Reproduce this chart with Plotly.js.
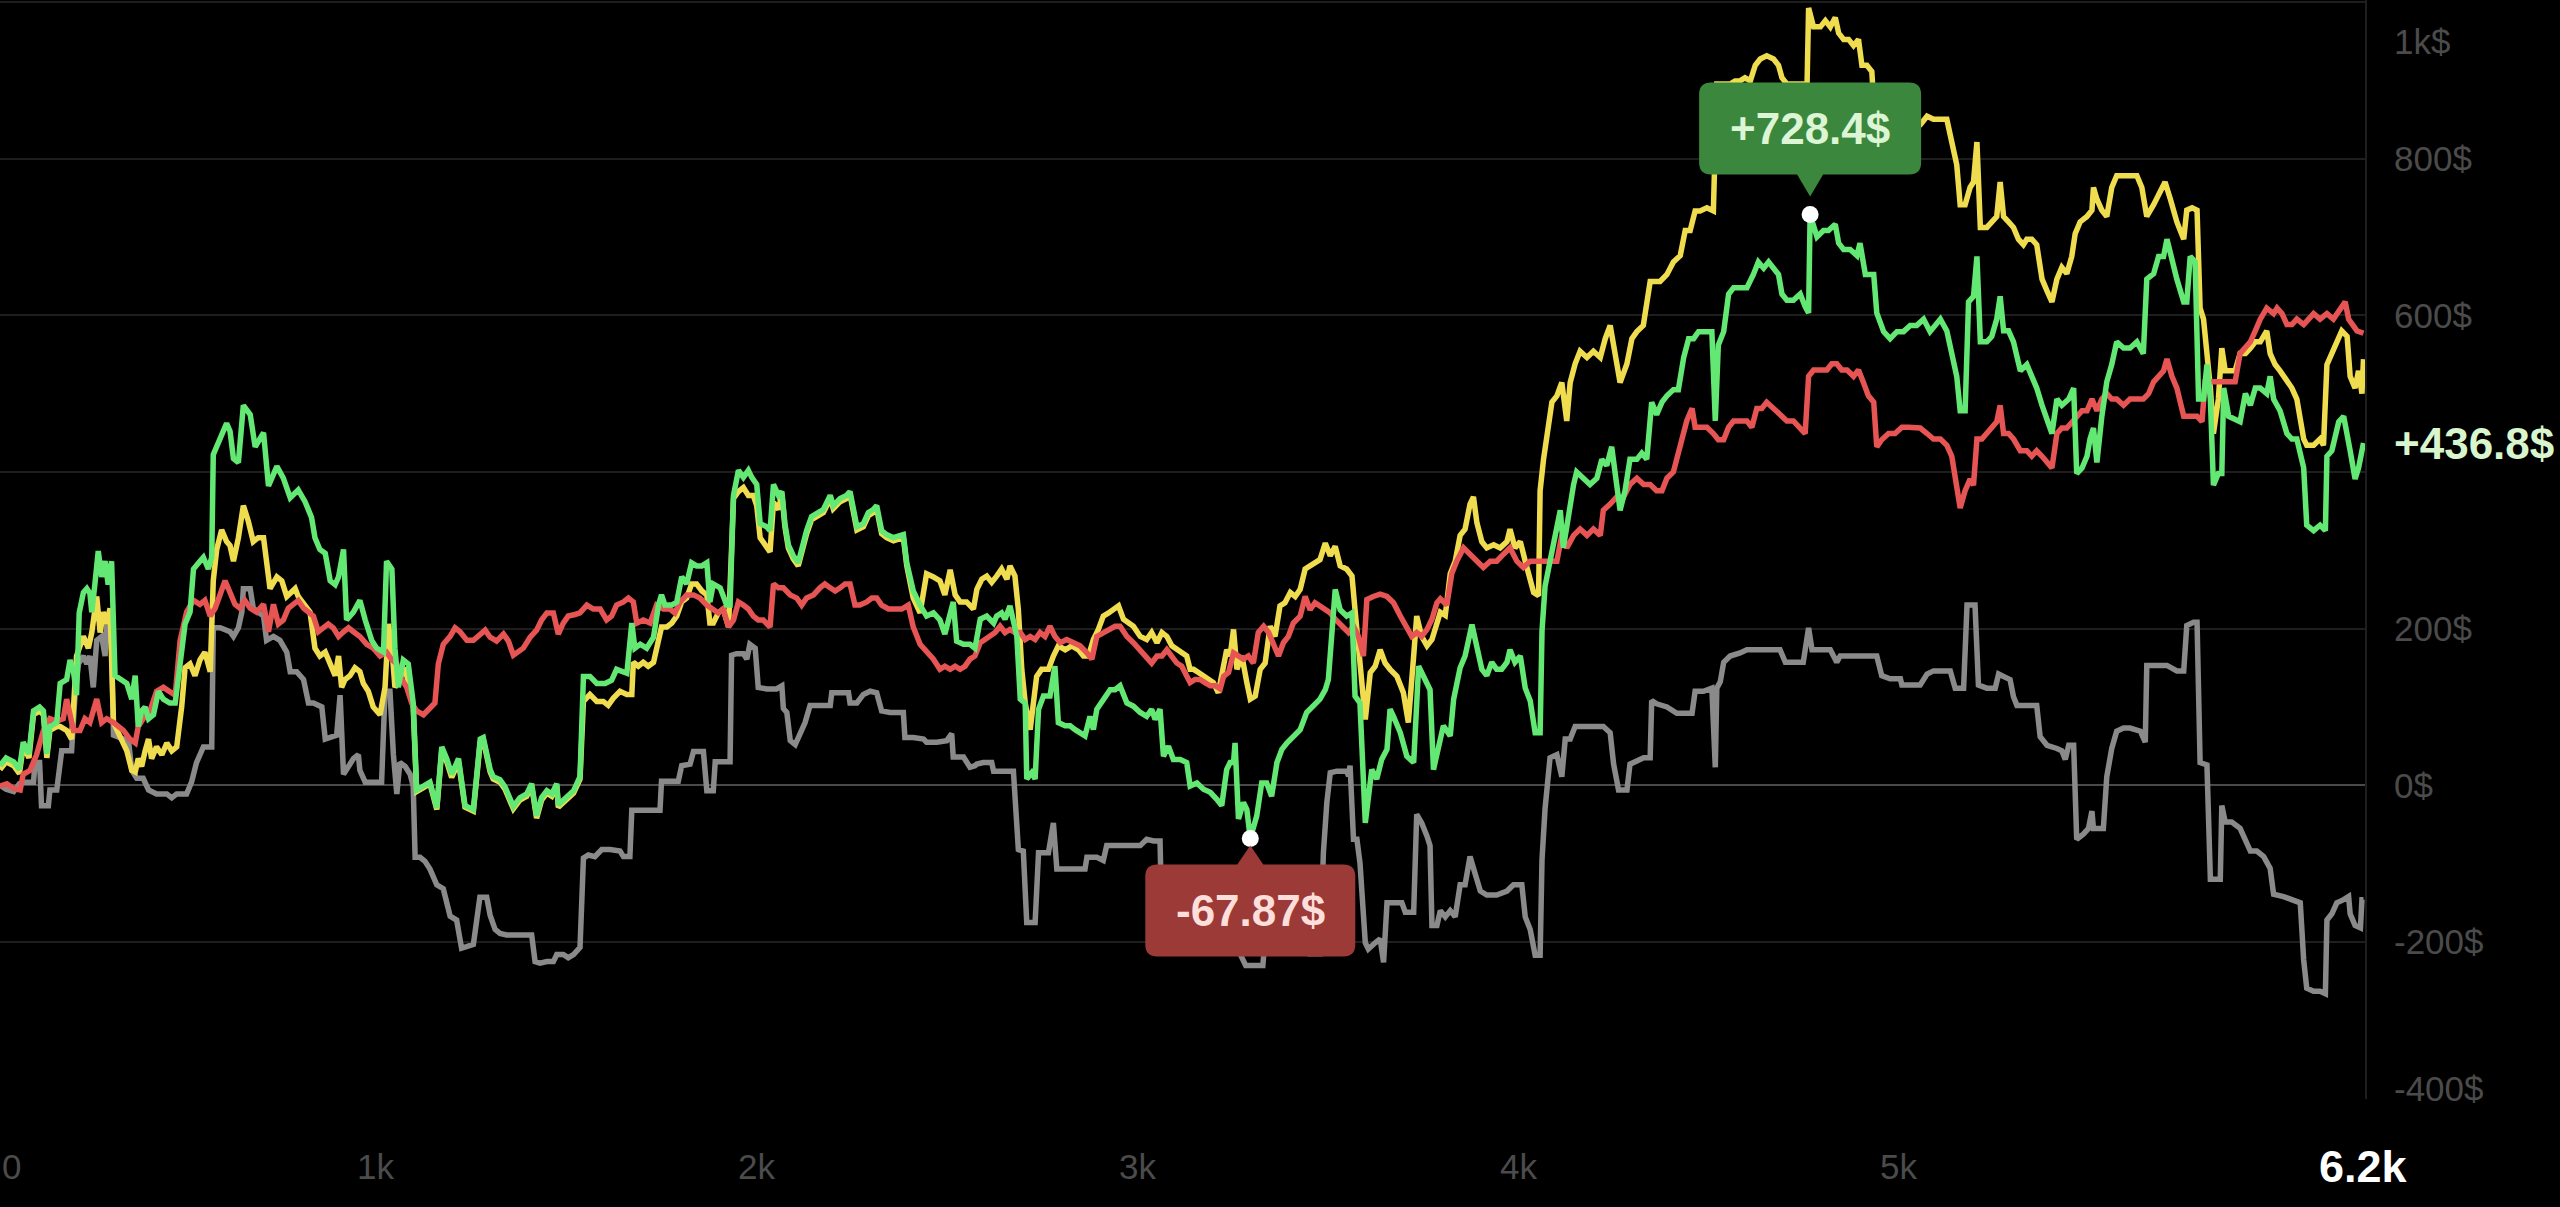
<!DOCTYPE html>
<html><head><meta charset="utf-8">
<script src="https://cdn.plot.ly/plotly-3.0.1.min.js"></script>
<style>html,body{margin:0;padding:0;background:#000;overflow:hidden}#chart{width:2560px;height:1207px}</style>
</head><body><div id="chart"></div>
<script>
// ---------- data (x = trade count, y = P&L $) ----------
const yellowPts = [[14,20],[30,30],[50,25],[65,15],[75,50],[90,35],[102,90],[118,95],[128,90],[137,35],[145,70],[163,75],[172,75],[189,70],[202,59],[215,165],[233,190],[246,175],[255,195],[268,241],[277,195],[285,221],[294,206],[303,226],[312,80],[329,64],[347,44],[360,19],[369,17],[377,34],[386,24],[395,44],[404,59],[412,34],[425,49],[439,39],[452,54],[465,44],[478,49],[491,100],[500,150],[513,155],[526,140],[539,160],[552,170],[566,145],[574,261],[583,301],[596,326],[609,311],[618,306],[627,286],[640,316],[653,357],[666,337],[679,311],[692,316],[706,316],[714,286],[723,251],[741,266],[754,261],[767,241],[780,246],[789,251],[797,241],[811,231],[828,221],[841,175],[854,165],[868,170],[881,155],[894,140],[903,165],[911,125],[920,135],[933,140],[946,150],[959,145],[968,130],[981,120],[994,100],[1012,90],[1025,125],[1034,206],[1043,175],[1051,125],[1064,135],[1078,150],[1099,100],[1108,-8],[1126,-3],[1143,2],[1161,-31],[1174,45],[1187,30],[1200,10],[1218,30],[1235,-28],[1257,-33],[1275,55],[1283,58],[1292,36],[1301,17],[1309,8],[1327,4],[1340,-5],[1353,-19],[1362,-30],[1379,-19],[1397,-14],[1410,-1],[1423,-42],[1436,-19],[1450,-10],[1463,-14],[1476,-1],[1480,-28],[1502,-19],[1520,-10],[1537,8],[1546,107],[1563,116],[1581,107],[1598,107],[1611,102],[1624,111],[1642,120],[1660,116],[1673,116],[1677,157],[1690,152],[1703,157],[1716,152],[1730,157],[1738,175],[1751,202],[1765,202],[1778,207],[1791,216],[1804,234],[1817,239],[1830,257],[1843,257],[1857,248],[1870,243],[1878,207],[1887,207],[1900,220],[1913,225],[1927,202],[1940,366],[1953,375],[1966,380],[1979,370],[1992,370],[2001,357],[2010,316],[2023,307],[2036,298],[2045,361],[2058,352],[2067,372],[2075,330],[2084,303],[2097,289],[2110,280],[2119,298],[2132,321],[2145,339],[2159,344],[2176,348],[2194,366],[2202,353],[2220,362],[2237,366],[2246,371],[2264,326],[2281,330],[2294,344],[2307,348],[2316,353],[2329,321],[2342,316],[2360,312],[2386,316],[2395,280],[2412,239],[2430,220],[2447,270],[2465,266],[2482,261],[2495,243],[2509,275],[2522,243],[2535,234],[2552,234],[2570,225],[2579,250],[2592,263],[2605,267],[2618,259],[2631,267],[2644,276],[2658,263],[2666,280],[2679,267],[2688,224],[2697,148],[2706,105],[2719,71],[2728,105],[2736,139],[2749,148],[2767,148],[2780,165],[2793,178],[2811,173],[2828,178],[2846,173],[2859,165],[2872,165],[2885,186],[2898,199],[2911,216],[2925,220],[2938,224],[2951,229],[2964,212],[2977,207],[2990,203],[3008,190],[3025,186],[3038,195],[3052,182],[3065,195],[3078,190],[3091,178],[3104,173],[3117,169],[3130,165],[3139,148],[3148,148],[3161,144],[3174,139],[3187,135],[3200,131],[3213,118],[3227,148],[3235,173],[3244,165],[3253,199],[3262,148],[3275,165],[3288,131],[3297,110],[3310,114],[3323,148],[3336,156],[3349,203],[3362,190],[3375,229],[3388,233],[3402,246],[3415,241],[3428,250],[3441,276],[3454,280],[3467,284],[3480,288],[3494,309],[3507,293],[3520,305],[3533,280],[3550,276],[3564,267],[3572,224],[3585,148],[3599,84],[3612,144],[3625,152],[3638,173],[3651,156],[3664,148],[3682,139],[3699,118],[3712,80],[3726,165],[3734,216],[3747,190],[3761,178],[3774,186],[3787,207],[3796,221],[3809,217],[3822,270],[3835,286],[3848,319],[3861,327],[3874,359],[3883,368],[3892,335],[3905,311],[3918,303],[3936,307],[3953,303],[3971,311],[3979,327],[3992,303],[4006,311],[4019,286],[4032,262],[4041,246],[4054,242],[4058,376],[4067,416],[4080,465],[4089,489],[4102,497],[4115,514],[4128,465],[4137,514],[4150,538],[4163,554],[4181,546],[4198,554],[4216,546],[4229,570],[4242,587],[4255,554],[4268,514],[4286,538],[4299,570],[4312,579],[4329,587],[4347,643],[4360,643],[4373,643],[4391,652],[4408,668],[4426,676],[4439,708],[4452,708],[4465,733],[4478,733],[4496,737],[4513,733],[4522,895],[4540,895],[4557,895],[4570,899],[4583,899],[4596,903],[4610,899],[4623,919],[4636,927],[4653,931],[4671,927],[4684,919],[4693,903],[4706,895],[4723,895],[4741,895],[4759,895],[4763,992],[4776,968],[4794,968],[4807,976],[4820,968],[4833,980],[4842,960],[4855,952],[4868,952],[4881,944],[4894,952],[4903,919],[4916,919],[4929,911],[4938,838],[4951,838],[4969,830],[4986,838],[5004,846],[5021,838],[5039,838],[5056,843],[5074,854],[5091,850],[5109,850],[5126,850],[5139,821],[5152,792],[5161,741],[5174,741],[5187,763],[5196,770],[5205,821],[5214,712],[5231,712],[5244,719],[5257,726],[5266,770],[5275,726],[5288,719],[5301,712],[5314,697],[5327,690],[5336,697],[5349,697],[5362,690],[5376,646],[5389,631],[5402,617],[5415,646],[5428,661],[5441,653],[5454,675],[5463,704],[5476,719],[5494,726],[5507,734],[5511,763],[5520,748],[5533,734],[5546,726],[5559,763],[5572,778],[5590,778],[5607,778],[5625,778],[5638,763],[5651,726],[5669,741],[5686,756],[5699,770],[5713,748],[5730,719],[5748,697],[5756,734],[5770,737],[5783,734],[5791,609],[5800,595],[5809,551],[5818,507],[5826,449],[5839,493],[5848,558],[5857,529],[5870,529],[5883,529],[5896,551],[5910,551],[5923,558],[5936,566],[5949,566],[5966,580],[5975,551],[5988,537],[6001,529],[6019,515],[6032,507],[6045,493],[6063,442],[6071,434],[6089,434],[6106,442],[6115,434],[6124,537],[6137,551],[6150,566],[6163,580],[6177,573],[6185,522],[6198,507],[6207,529],[6216,500],[6220,544]];

const greenPts = [[14,25],[30,35],[50,30],[65,20],[75,55],[90,40],[102,95],[118,100],[128,95],[137,40],[145,75],[163,80],[172,130],[189,135],[198,160],[207,145],[215,115],[222,220],[233,246],[242,251],[250,245],[255,221],[263,256],[272,299],[281,266],[290,286],[298,256],[307,286],[316,140],[329,135],[347,130],[360,110],[369,140],[377,75],[386,95],[395,100],[404,85],[417,90],[430,120],[443,110],[460,105],[474,105],[487,160],[500,206],[513,221],[522,276],[539,286],[548,291],[561,276],[570,291],[574,422],[592,442],[609,462],[618,452],[627,417],[640,412],[653,485],[671,473],[684,432],[706,450],[719,382],[741,407],[758,392],[776,367],[797,377],[815,362],[832,342],[841,316],[854,301],[868,296],[881,261],[894,256],[903,266],[916,301],[924,211],[942,221],[959,236],[973,211],[990,185],[1003,175],[1021,170],[1029,286],[1043,276],[1051,175],[1060,125],[1073,160],[1086,155],[1099,105],[1108,-6],[1126,-1],[1143,4],[1161,-29],[1174,49],[1187,34],[1200,14],[1218,34],[1235,-26],[1257,-31],[1275,59],[1283,61],[1292,39],[1301,20],[1309,11],[1327,7],[1340,-2],[1353,-16],[1362,-27],[1379,-16],[1397,-11],[1410,2],[1423,-39],[1436,-16],[1450,-7],[1463,-11],[1476,2],[1480,-25],[1502,-16],[1520,-7],[1537,11],[1546,139],[1563,139],[1581,130],[1603,130],[1620,134],[1633,148],[1660,143],[1673,207],[1681,175],[1695,180],[1712,175],[1730,189],[1743,230],[1751,243],[1760,230],[1778,230],[1791,234],[1804,266],[1817,257],[1830,284],[1843,280],[1857,280],[1870,284],[1878,234],[1887,257],[1905,252],[1922,230],[1931,230],[1940,370],[1953,402],[1966,393],[1979,402],[1988,393],[2001,384],[2010,334],[2027,330],[2036,325],[2045,384],[2058,370],[2067,375],[2075,334],[2084,307],[2097,293],[2110,284],[2119,302],[2132,325],[2145,343],[2159,348],[2176,352],[2194,370],[2202,357],[2220,366],[2237,370],[2246,375],[2264,330],[2281,334],[2294,348],[2307,352],[2316,357],[2329,325],[2342,320],[2360,316],[2386,320],[2395,284],[2412,248],[2430,230],[2447,216],[2465,220],[2482,211],[2495,193],[2509,216],[2517,234],[2526,184],[2544,180],[2561,180],[2574,175],[2588,212],[2605,216],[2623,207],[2631,216],[2644,220],[2653,212],[2666,229],[2675,207],[2684,190],[2693,110],[2706,105],[2710,8],[2723,16],[2732,8],[2741,97],[2754,114],[2771,114],[2784,152],[2793,80],[2811,76],[2824,76],[2837,71],[2850,67],[2863,63],[2876,88],[2885,71],[2894,97],[2911,110],[2929,122],[2942,122],[2955,127],[2973,105],[2990,101],[3008,93],[3025,88],[3038,97],[3047,84],[3060,97],[3069,37],[3082,50],[3095,33],[3113,33],[3130,29],[3139,-1],[3157,3],[3174,-5],[3192,-9],[3209,-18],[3222,-26],[3235,20],[3244,29],[3253,29],[3257,54],[3266,-43],[3279,-22],[3288,-31],[3297,-67.87],[3314,-39],[3327,3],[3340,3],[3353,-14],[3367,29],[3380,46],[3393,54],[3410,63],[3428,71],[3445,93],[3463,101],[3480,110],[3494,122],[3502,135],[3520,250],[3533,224],[3550,216],[3564,220],[3572,114],[3585,105],[3599,-48],[3616,20],[3629,8],[3642,33],[3656,46],[3664,97],[3673,88],[3691,67],[3708,37],[3726,29],[3739,152],[3756,135],[3769,122],[3778,20],[3791,46],[3804,76],[3822,63],[3831,110],[3848,150],[3861,165],[3879,205],[3892,173],[3905,148],[3918,140],[3931,157],[3944,148],[3957,148],[3971,157],[3979,173],[3992,157],[4006,165],[4019,124],[4032,108],[4045,67],[4058,67],[4063,197],[4071,254],[4084,286],[4098,319],[4111,351],[4119,303],[4133,351],[4146,384],[4154,400],[4172,392],[4189,384],[4207,392],[4220,416],[4233,408],[4246,432],[4259,384],[4268,351],[4281,376],[4294,416],[4312,416],[4325,424],[4338,416],[4351,489],[4364,473],[4378,489],[4391,497],[4408,505],[4421,505],[4435,546],[4448,570],[4461,570],[4474,579],[4496,579],[4509,579],[4518,465],[4526,562],[4540,579],[4553,627],[4566,635],[4583,635],[4601,635],[4618,652],[4631,668],[4645,660],[4658,668],[4671,660],[4684,652],[4693,627],[4706,619],[4723,619],[4741,627],[4754,611],[4763,603],[4767,728.4],[4785,700],[4802,708],[4815,708],[4833,716],[4842,692],[4855,684],[4872,684],[4890,676],[4898,692],[4912,652],[4925,652],[4934,652],[4942,603],[4960,579],[4977,570],[4995,579],[5012,579],[5030,587],[5047,587],[5065,595],[5082,579],[5109,595],[5126,580],[5139,551],[5152,522],[5161,478],[5174,478],[5183,617],[5196,624],[5205,675],[5214,566],[5231,566],[5244,573],[5257,595],[5266,624],[5275,580],[5288,580],[5301,566],[5319,529],[5336,537],[5349,522],[5362,507],[5376,485],[5389,464],[5402,449],[5415,493],[5428,485],[5446,493],[5459,507],[5467,398],[5481,405],[5494,420],[5502,442],[5511,456],[5520,412],[5533,471],[5546,515],[5559,537],[5572,566],[5590,558],[5607,558],[5625,566],[5642,551],[5651,646],[5669,653],[5682,675],[5695,675],[5704,697],[5717,668],[5730,646],[5748,617],[5756,617],[5765,675],[5778,668],[5787,493],[5800,493],[5809,537],[5818,493],[5826,383],[5839,398],[5848,398],[5853,507],[5866,471],[5883,467],[5896,464],[5910,500],[5923,485],[5936,507],[5949,507],[5966,500],[5975,522],[5984,493],[6001,478],[6019,449],[6032,442],[6045,442],[6063,405],[6071,332],[6089,325],[6106,332],[6120,325],[6124,420],[6137,427],[6155,464],[6168,471],[6185,427],[6198,391],[6207,405],[6220,436.8]];

const redPts = [[14,-1],[32,2],[49,-4],[67,-6],[75,14],[93,19],[110,39],[128,70],[145,85],[163,82],[180,85],[189,110],[198,90],[207,70],[224,70],[237,85],[250,80],[268,110],[281,80],[294,85],[312,80],[325,75],[338,70],[355,59],[369,54],[377,75],[390,85],[408,95],[425,120],[443,125],[460,120],[474,115],[487,185],[504,221],[522,236],[539,231],[552,236],[566,216],[579,226],[592,246],[605,261],[618,246],[631,231],[644,226],[657,236],[671,226],[688,221],[706,231],[719,196],[732,231],[745,206],[758,211],[771,226],[784,231],[797,236],[811,226],[824,221],[837,216],[850,196],[863,201],[876,206],[889,201],[903,190],[916,196],[929,201],[942,196],[959,190],[977,180],[994,175],[1012,165],[1029,170],[1043,160],[1056,155],[1069,135],[1082,125],[1095,105],[1108,95],[1126,90],[1143,100],[1156,105],[1165,155],[1178,180],[1196,190],[1209,201],[1222,196],[1240,185],[1257,185],[1274,193],[1288,198],[1301,189],[1318,184],[1336,193],[1349,184],[1362,166],[1375,171],[1388,175],[1406,189],[1423,198],[1436,211],[1450,220],[1467,220],[1480,193],[1493,207],[1506,216],[1524,218],[1537,220],[1555,230],[1572,225],[1590,225],[1607,211],[1620,216],[1633,230],[1651,234],[1664,239],[1677,234],[1686,207],[1703,211],[1721,207],[1738,230],[1756,225],[1773,225],[1786,220],[1800,234],[1817,243],[1835,243],[1852,239],[1870,230],[1887,225],[1900,220],[1913,225],[1927,202],[1940,211],[1953,234],[1966,230],[1979,225],[1992,216],[2005,211],[2018,211],[2036,202],[2045,257],[2058,252],[2071,252],[2089,243],[2106,239],[2119,230],[2132,239],[2150,243],[2167,252],[2180,257],[2194,252],[2207,248],[2220,252],[2233,257],[2246,257],[2259,230],[2272,230],[2290,234],[2303,239],[2316,239],[2329,230],[2347,225],[2364,225],[2382,225],[2399,230],[2412,202],[2430,180],[2447,170],[2465,161],[2482,148],[2495,152],[2509,148],[2522,152],[2535,148],[2548,152],[2561,161],[2574,165],[2588,182],[2601,186],[2614,190],[2627,195],[2640,203],[2653,195],[2666,199],[2679,195],[2693,195],[2706,186],[2719,190],[2732,186],[2745,195],[2758,190],[2771,203],[2784,190],[2798,182],[2815,186],[2833,182],[2850,178],[2868,169],[2881,161],[2894,190],[2911,195],[2929,199],[2942,203],[2955,203],[2973,190],[2990,182],[3008,173],[3025,165],[3038,156],[3052,165],[3065,165],[3078,173],[3091,165],[3104,156],[3117,152],[3130,139],[3139,131],[3152,135],[3165,135],[3178,131],[3192,127],[3205,127],[3218,123],[3227,139],[3240,144],[3253,169],[3266,165],[3279,161],[3292,165],[3305,156],[3318,195],[3332,203],[3345,195],[3358,182],[3371,165],[3384,182],[3397,190],[3410,207],[3428,216],[3441,241],[3454,224],[3467,233],[3480,229],[3494,224],[3507,220],[3520,212],[3537,203],[3555,195],[3568,203],[3581,190],[3594,165],[3603,237],[3620,241],[3638,244],[3656,241],[3673,233],[3691,216],[3708,199],[3721,190],[3734,195],[3747,190],[3761,199],[3774,212],[3787,233],[3796,238],[3813,230],[3826,270],[3839,286],[3857,303],[3874,295],[3892,286],[3909,278],[3927,286],[3944,286],[3962,295],[3979,303],[3997,286],[4014,278],[4032,286],[4049,286],[4067,286],[4084,286],[4102,286],[4115,319],[4128,303],[4146,319],[4163,327],[4181,319],[4198,327],[4216,319],[4224,351],[4242,359],[4259,368],[4277,368],[4294,384],[4312,392],[4330,384],[4347,384],[4364,376],[4378,376],[4391,392],[4408,400],[4426,432],[4443,465],[4457,481],[4465,457],[4478,457],[4496,457],[4513,449],[4526,441],[4540,441],[4553,457],[4566,465],[4583,465],[4601,465],[4614,457],[4627,481],[4640,481],[4653,489],[4671,481],[4688,473],[4706,465],[4723,465],[4741,457],[4754,449],[4763,522],[4776,530],[4794,530],[4811,530],[4824,538],[4837,538],[4850,530],[4864,530],[4881,522],[4894,530],[4907,514],[4920,497],[4934,489],[4942,432],[4955,441],[4973,449],[4990,449],[5008,457],[5025,457],[5043,457],[5056,456],[5074,449],[5091,442],[5109,442],[5126,434],[5139,420],[5152,376],[5161,354],[5174,376],[5187,391],[5196,383],[5205,442],[5218,442],[5231,449],[5244,456],[5257,464],[5266,485],[5275,449],[5288,449],[5301,442],[5319,427],[5336,427],[5349,420],[5362,427],[5376,420],[5389,412],[5402,405],[5415,449],[5428,456],[5441,456],[5454,464],[5467,471],[5481,478],[5494,478],[5507,493],[5520,478],[5533,493],[5546,500],[5559,493],[5572,493],[5590,485],[5607,493],[5625,493],[5642,493],[5656,500],[5669,515],[5682,522],[5695,529],[5704,544],[5717,522],[5730,507],[5748,471],[5765,471],[5783,471],[5796,464],[5804,515],[5818,515],[5835,515],[5853,515],[5870,515],[5883,515],[5896,551],[5910,558],[5923,566],[5936,580],[5949,595],[5966,609],[5984,602],[5993,609],[6006,602],[6019,588],[6032,588],[6045,595],[6063,588],[6076,595],[6089,602],[6106,595],[6124,602],[6141,595],[6159,609],[6172,617],[6181,595],[6190,588],[6203,580],[6220,577]];

const greyPts = [[14,0],[30,-5],[50,-8],[65,2],[80,4],[102,4],[106,29],[118,29],[123,-26],[141,-26],[145,-6],[163,-6],[176,44],[202,44],[211,115],[220,155],[233,165],[242,155],[250,165],[259,125],[268,185],[281,190],[290,165],[294,201],[306,201],[312,64],[338,59],[351,59],[360,19],[373,9],[390,9],[404,-6],[425,-11],[452,-11],[465,-16],[478,-11],[504,-11],[517,4],[530,29],[548,49],[570,49],[574,201],[592,201],[618,196],[627,190],[640,201],[649,221],[653,251],[671,251],[679,226],[692,221],[706,216],[714,185],[732,190],[749,185],[767,170],[776,145],[793,145],[811,135],[824,105],[837,105],[859,100],[868,59],[898,64],[907,115],[916,14],[929,24],[942,34],[955,39],[959,19],[973,4],[1016,4],[1025,120],[1038,120],[1047,39],[1056,-11],[1064,29],[1078,24],[1091,14],[1099,-1],[1104,-92],[1117,-92],[1130,-97],[1143,-107],[1161,-127],[1178,-132],[1196,-167],[1213,-172],[1226,-208],[1257,-203],[1274,-143],[1292,-143],[1301,-166],[1314,-184],[1327,-189],[1344,-191],[1362,-191],[1388,-191],[1410,-191],[1419,-225],[1432,-227],[1450,-225],[1467,-225],[1476,-216],[1493,-216],[1506,-220],[1520,-216],[1537,-207],[1546,-93],[1559,-89],[1576,-91],[1594,-82],[1616,-82],[1642,-84],[1651,-91],[1668,-91],[1673,-32],[1695,-32],[1721,-32],[1747,-32],[1751,5],[1773,5],[1795,5],[1804,25],[1826,27],[1835,43],[1861,43],[1870,-7],[1887,-7],[1892,30],[1913,30],[1931,30],[1935,166],[1948,168],[1966,168],[1975,161],[1983,180],[1997,175],[2005,125],[2027,123],[2053,123],[2067,127],[2071,98],[2080,93],[2089,57],[2102,52],[2115,66],[2128,80],[2141,102],[2167,102],[2194,102],[2198,118],[2220,118],[2242,118],[2246,105],[2264,105],[2281,116],[2299,120],[2316,118],[2329,95],[2351,93],[2386,93],[2390,61],[2412,61],[2439,59],[2447,55],[2474,55],[2500,57],[2513,66],[2517,36],[2544,36],[2561,23],[2574,25],[2579,27],[2596,29],[2618,29],[2623,18],[2649,18],[2675,18],[2688,-82],[2701,-84],[2710,-175],[2732,-175],[2741,-86],[2767,-86],[2780,-48],[2789,-107],[2815,-107],[2841,-107],[2863,-107],[2868,-92],[2894,-92],[2911,-96],[2920,-77],[2946,-77],[2973,-77],[3008,-77],[3025,-69],[3043,-71],[3060,-71],[3065,-175],[3100,-175],[3150,-180],[3200,-200],[3260,-205],[3285,-230],[3330,-230],[3335,-200],[3400,-200],[3450,-215],[3480,-215],[3489,-86],[3498,-22],[3507,16],[3524,18],[3550,18],[3555,12],[3559,25],[3568,-69],[3577,-69],[3585,-99],[3599,-201],[3607,-209],[3625,-201],[3638,-196],[3647,-226],[3656,-150],[3673,-150],[3695,-150],[3704,-162],[3726,-162],[3734,-37],[3747,-48],[3761,-65],[3769,-77],[3774,-179],[3787,-179],[3796,-160],[3809,-168],[3822,-160],[3835,-168],[3848,-127],[3861,-127],[3874,-91],[3887,-111],[3901,-135],[3918,-140],[3944,-140],[3971,-135],[3988,-127],[4010,-127],[4019,-168],[4032,-184],[4045,-217],[4058,-217],[4063,-95],[4071,-30],[4084,35],[4102,39],[4115,11],[4124,59],[4137,59],[4150,75],[4181,75],[4207,75],[4224,75],[4242,67],[4251,27],[4264,-6],[4286,-6],[4294,27],[4312,31],[4330,35],[4347,35],[4351,108],[4364,104],[4391,100],[4417,92],[4435,92],[4457,92],[4465,120],[4487,120],[4509,124],[4518,23],[4522,124],[4531,132],[4540,157],[4557,165],[4583,169],[4601,173],[4627,173],[4662,173],[4688,173],[4702,157],[4723,157],[4749,157],[4763,201],[4772,173],[4794,173],[4820,173],[4837,157],[4846,165],[4872,165],[4907,165],[4942,165],[4955,140],[4977,136],[5004,136],[5008,128],[5039,128],[5056,128],[5074,142],[5091,146],[5109,146],[5135,146],[5148,124],[5170,124],[5179,230],[5200,230],[5209,128],[5231,124],[5253,124],[5262,142],[5275,139],[5292,135],[5301,113],[5310,102],[5336,102],[5362,102],[5371,62],[5389,51],[5415,47],[5428,44],[5437,33],[5446,51],[5459,51],[5467,-69],[5485,-62],[5498,-55],[5507,-33],[5511,-55],[5537,-55],[5546,11],[5559,47],[5572,69],[5590,73],[5607,73],[5634,69],[5647,55],[5651,153],[5678,153],[5704,153],[5730,146],[5748,146],[5756,204],[5774,208],[5783,208],[5791,29],[5809,26],[5818,-120],[5844,-120],[5848,-26],[5857,-47],[5874,-47],[5896,-55],[5910,-69],[5923,-84],[5940,-84],[5958,-91],[5975,-106],[5984,-139],[6010,-142],[6028,-146],[6054,-150],[6063,-223],[6071,-259],[6089,-263],[6106,-263],[6120,-266],[6124,-172],[6137,-164],[6150,-150],[6168,-146],[6181,-142],[6185,-164],[6198,-179],[6212,-182],[6216,-146],[6220,-146]];

const xTickVals = [0, 1000, 2000, 3000, 4000, 5000];
const xTickText = ['0', '1k', '2k', '3k', '4k', '5k'];
const yTickVals = [1000, 800, 600, 400, 200, 0, -200, -400];
const yTickText = ['1k$', '800$', '600$', '400$', '200$', '0$', '-200$', '-400$'];

// ---------- styling ----------
const X_RANGE = [14, 6224];
const Y_RANGE = [-400.4, 1002.3];
const FONT = 'Liberation Sans, Arial, Helvetica, sans-serif';
const C = { yellow: '#f0dd4f', green: '#63e873', red: '#e65454', grey: '#8a8a8a' };

const xs = p => p.map(d => d[0]);
const ys = p => p.map(d => d[1]);
const line = (pts, color) => ({
  type: 'scatter', mode: 'lines', x: xs(pts), y: ys(pts),
  line: { color: color, width: 5.5 }, hoverinfo: 'skip', showlegend: false
});

const gY = ys(greenPts);
const iMax = gY.indexOf(Math.max(...gY));
const iMin = gY.indexOf(Math.min(...gY));
const maxPt = greenPts[iMax], minPt = greenPts[iMin];
const lastGreen = greenPts[greenPts.length - 1];
const fmt = v => (v >= 0 ? '+' : '') + v + '$';

const traces = [
  line(greyPts, C.grey),
  line(yellowPts, C.yellow),
  line(redPts, C.red),
  line(greenPts, C.green),
  { type: 'scatter', mode: 'markers', x: [maxPt[0], minPt[0]], y: [maxPt[1], minPt[1]],
    marker: { color: '#ffffff', size: 17 }, hoverinfo: 'skip', showlegend: false }
];

function calloutPath(hw, yNear, yFar, yTip, r, tw) {
  const s = Math.sign(yFar - yNear);
  return `M ${-tw},${yNear} L 0,${yTip} L ${tw},${yNear} L ${hw - r},${yNear} Q ${hw},${yNear} ${hw},${yNear + s * r} ` +
    `L ${hw},${yFar - s * r} Q ${hw},${yFar} ${hw - r},${yFar} L ${-hw + r},${yFar} Q ${-hw},${yFar} ${-hw},${yFar - s * r} ` +
    `L ${-hw},${yNear + s * r} Q ${-hw},${yNear} ${-hw + r},${yNear} Z`;
}
const callout = (pt, path, fill) => ({
  type: 'path', xref: 'x', yref: 'y', xsizemode: 'pixel', ysizemode: 'pixel',
  xanchor: pt[0], yanchor: pt[1], path: path, fillcolor: fill, line: { width: 0 }, layer: 'above'
});

const shapes = [
  callout(maxPt, calloutPath(111, 40, 132, 18, 12, 13), '#3a873d'),
  callout(minPt, calloutPath(105, -26, -118, -7, 12, 13), '#9c3a38')
];

const annotations = [];
// y-axis labels on the right (a label that would collide with the last-value label is hidden)
yTickVals.forEach((v, i) => {
  if (Math.abs(v - lastGreen[1]) < 60) return;
  annotations.push({
    xref: 'paper', x: 1, xanchor: 'left', xshift: 27,
    yref: 'y', y: v, yanchor: 'middle',
    yshift: v === 1000 ? -40 : (v === -400 ? 10 : 0),
    text: yTickText[i], showarrow: false,
    font: { family: FONT, size: 35, color: '#4b4b4b' }
  });
});
// x-axis labels
xTickVals.forEach((v, i) => {
  const inside = v >= X_RANGE[0];
  annotations.push({
    xref: 'x', x: inside ? v : X_RANGE[0], xanchor: inside ? 'center' : 'left',
    yref: 'paper', y: 0, yanchor: 'middle', yshift: -67,
    text: xTickText[i], showarrow: false,
    font: { family: FONT, size: 35, color: '#4b4b4b' }
  });
});
// last x label (bold white)
annotations.push({
  xref: 'x', x: lastGreen[0], xanchor: 'center',
  yref: 'paper', y: 0, yanchor: 'middle', yshift: -67,
  text: '<b>' + (lastGreen[0] / 1000).toFixed(1) + 'k</b>', showarrow: false,
  font: { family: FONT, size: 45, color: '#ffffff' }
});
// last value label
annotations.push({
  xref: 'paper', x: 1, xanchor: 'left', xshift: 27,
  yref: 'y', y: lastGreen[1], yanchor: 'middle',
  text: '<b>' + fmt(lastGreen[1]) + '</b>', showarrow: false,
  font: { family: FONT, size: 44, color: '#d8f5cd' }
});
// callout texts
annotations.push({
  xref: 'x', x: maxPt[0], yref: 'y', y: maxPt[1], xanchor: 'center', yanchor: 'middle', yshift: 86,
  text: '<b>' + fmt(maxPt[1]) + '</b>', showarrow: false,
  font: { family: FONT, size: 44, color: '#dcf5d4' }
});
annotations.push({
  xref: 'x', x: minPt[0], yref: 'y', y: minPt[1], xanchor: 'center', yanchor: 'middle', yshift: -72,
  text: '<b>' + fmt(minPt[1]) + '</b>', showarrow: false,
  font: { family: FONT, size: 44, color: '#fcdeda' }
});

const layout = {
  width: 2560, height: 1207,
  paper_bgcolor: '#000000', plot_bgcolor: '#000000',
  margin: { l: 0, r: 195, t: 0, b: 108, pad: 0 },
  showlegend: false,
  xaxis: { range: X_RANGE, showgrid: false, zeroline: false, showline: false, showticklabels: false, ticks: '', fixedrange: true },
  yaxis: {
    range: Y_RANGE, side: 'right', tickmode: 'array', tickvals: yTickVals, showticklabels: false, ticks: '',
    showgrid: true, gridcolor: '#1e1e1e', gridwidth: 2,
    zeroline: true, zerolinecolor: '#4a4a4a', zerolinewidth: 2,
    showline: true, linecolor: '#1e1e1e', linewidth: 2, fixedrange: true
  },
  shapes: shapes,
  annotations: annotations
};

Plotly.newPlot('chart', traces, layout, { staticPlot: true, displayModeBar: false, responsive: false });
</script></body></html>
